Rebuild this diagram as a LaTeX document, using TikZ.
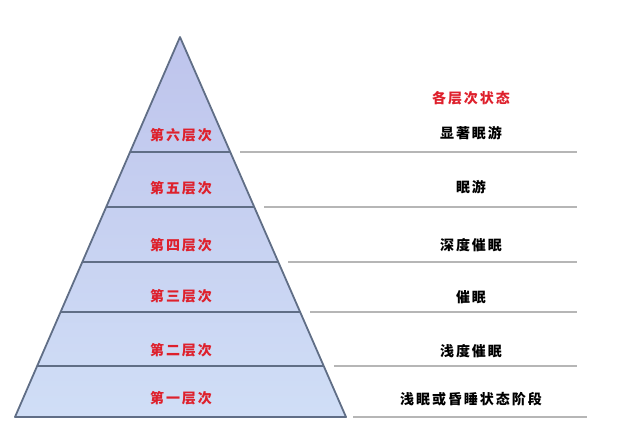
\documentclass[tikz,border=0pt]{standalone}
\usepackage{fontspec}
\newfontfamily\cjk{Noto Sans CJK SC}[LetterSpace=14]
\usepackage{tikz}
\usetikzlibrary{calc}
\definecolor{lvlred}{RGB}{222,32,44}
\definecolor{pyredge}{RGB}{96,110,134}
\definecolor{pyrtop}{RGB}{190,196,236}
\definecolor{pyrbot}{RGB}{208,222,246}
\definecolor{rule}{RGB}{182,182,182}
\tikzset{
  lvl/.style={font=\cjk\bfseries\fontsize{14}{14}\selectfont, text=lvlred, inner sep=1pt},
  state/.style={font=\cjk\bfseries\fontsize{14}{14}\selectfont, text=black, inner sep=1pt},
  pyr/.style={draw=pyredge, line width=1.8pt, line join=round},
  sep/.style={draw=pyredge, line width=1.8pt},
  guide/.style={draw=rule, line width=1.6pt},
}
\begin{document}
\begin{tikzpicture}[x=1pt,y=-1pt]
  \useasboundingbox (0,0) rectangle (640,447);
  \coordinate (apex) at (180,37);
  \coordinate (bl) at (15,417);
  \coordinate (br) at (346,417);
  \shade[top color=pyrtop, bottom color=pyrbot] (apex) -- (bl) -- (br) -- cycle;
  % layer borders inside, guide lines outside
  \foreach \t/\e in {0.3026/577, 0.447/577, 0.592/577, 0.724/577, 0.866/577}{
    \draw[sep] ($(apex)!\t!(bl)$) -- ($(apex)!\t!(br)$);
    \draw[guide] ($(apex)!\t!(br)+(10,0)$) -- ($(\e,0)+(0,{37+380*\t})$);
  }
  \draw[guide] (353,417) -- (587,417);
  \draw[pyr] (apex) -- (bl) -- (br) -- cycle;

  \node[lvl] (l6) at (181,135) {第六层次};
  \node[lvl] (l5) at (181,188) {第五层次};
  \node[lvl] (l4) at (181,245) {第四层次};
  \node[lvl] (l3) at (181,296) {第三层次};
  \node[lvl] (l2) at (181,350) {第二层次};
  \node[lvl] (l1) at (181,398) {第一层次};

  \node[lvl] (head) at (471,98) {各层次状态};
  \node[state] (s6) at (471,133) {显著眠游};
  \node[state] (s5) at (471,187) {眠游};
  \node[state] (s4) at (471,245) {深度催眠};
  \node[state] (s3) at (471,297) {催眠};
  \node[state] (s2) at (471,351) {浅度催眠};
  \node[state] (s1) at (471,399) {浅眠或昏睡状态阶段};
\end{tikzpicture}
\end{document}
